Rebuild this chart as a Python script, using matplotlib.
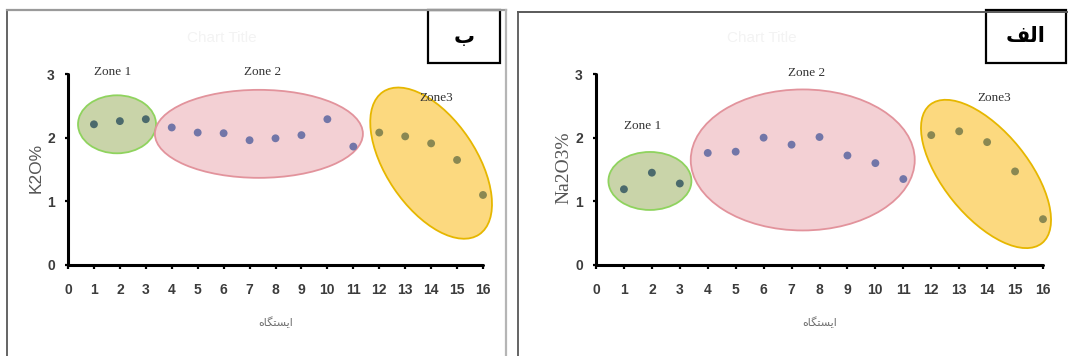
import matplotlib
matplotlib.use("Agg")
import matplotlib.pyplot as plt
from matplotlib.patches import Ellipse, Rectangle
from matplotlib.lines import Line2D
from matplotlib.transforms import ScaledTranslation

# station numbers and measured oxide percentages
stations = list(range(1, 17))
k2o = [2.21, 2.26, 2.29, 2.16, 2.08, 2.07, 1.96, 1.99, 2.04, 2.29, 1.86,
       2.08, 2.02, 1.91, 1.65, 1.10]
na2o = [1.19, 1.45, 1.28, 1.76, 1.78, 2.00, 1.89, 2.01, 1.72, 1.60, 1.35,
        2.04, 2.10, 1.93, 1.47, 0.72]
# zone of each station
zone_of = [1, 1, 1, 2, 2, 2, 2, 2, 2, 2, 2, 3, 3, 3, 3, 3]
zone_names = ["Zone 1", "Zone 2", "Zone3"]

x_ticks = list(range(0, 17))
y_ticks = [0, 1, 2, 3]

# shaped arabic/persian strings (presentation forms, visual order)
xlabel_fa = "\ufee9\ufe8e\ufb95\ufe98\ufeb4\ufbfe\ufe8d"   # ایستگاه
tag_b = "\u0628"                                        # ب
tag_alef = "\ufed2\ufedf\ufe8d"                         # الف

W, H = 1068, 356
fig = plt.figure(figsize=(W / 100, H / 100), dpi=100)
fig.patch.set_facecolor("white")

dot_colors = {1: "#4b6a6c", 2: "#7276a8", 3: "#8a8852"}
zone_fill = {1: ("#c9d4a9", "#8fd35e"), 2: ("#f3d0d4", "#e2939c"), 3: ("#fcd97f", "#e6b700")}


def px_rect(x0, y0, x1, y1):
    # pixel box (top-left origin) -> figure fraction rect
    return [x0 / W, 1 - y1 / H, (x1 - x0) / W, (y1 - y0) / H]


def zone_ellipse(ax, cx, cy, w, h, angle, zone):
    face, edge = zone_fill[zone]
    tr = ScaledTranslation(cx, cy, ax.transData)
    e = Ellipse((0, 0), w, h, angle=angle, transform=tr, facecolor=face,
                edgecolor=edge, linewidth=1.3, zorder=1, clip_on=False)
    ax.add_artist(e)


def draw_panel(rect, values, ylabel, ylabel_font, ylabel_size, ylabel_x,
               ellipses, zone_text):
    ax = fig.add_axes(rect)
    ax.set_xlim(0, 16)
    ax.set_ylim(0, 3)
    for side in ["top", "right"]:
        ax.spines[side].set_visible(False)
    for side in ["left", "bottom"]:
        ax.spines[side].set_linewidth(2.2)
        ax.spines[side].set_color("black")
        ax.spines[side].set_capstyle("round")
    ax.set_xticks(x_ticks)
    ax.set_yticks(y_ticks)
    ax.tick_params(axis="x", direction="out", length=3, width=1.6,
                   pad=10, labelsize=10, labelcolor="#3c3c3c")
    ax.tick_params(axis="y", direction="out", length=2.5, width=1.6,
                   pad=7, labelsize=10, labelcolor="#3c3c3c")
    for lab in ax.get_xticklabels() + ax.get_yticklabels():
        lab.set_fontfamily("Liberation Sans")
        lab.set_fontweight("bold")

    for (cx, cy, w, h, ang), z in zip(ellipses, [1, 2, 3]):
        zone_ellipse(ax, cx, cy, w, h, ang, z)

    cols = [dot_colors[z] for z in zone_of]
    ax.scatter(stations, values, s=32, c=cols, zorder=3, clip_on=False,
               linewidths=0)

    for name, (tx, ty) in zip(zone_names, zone_text):
        ax.text(tx, ty, name, family="Liberation Serif", fontsize=9.5,
                color="#333333", ha="center", va="center")

    ax.set_ylabel(ylabel, family=ylabel_font, fontsize=ylabel_size,
                  color="#555555")
    ax.yaxis.set_label_coords(ylabel_x, 0.51)
    ax.text(0.5, -0.30, xlabel_fa, transform=ax.transAxes, family="DejaVu Sans",
            fontsize=8, color="#707070", ha="center", va="center")
    ax.text(0.37, 1.19, "Chart Title", transform=ax.transAxes,
            family="Liberation Sans", fontsize=11, color="#f3f3f3",
            ha="center", va="center")
    return ax


# left panel: K2O
draw_panel(px_rect(68, 74, 483, 265), k2o, "K2O%", "Liberation Sans", 12.5,
           -0.058,
           [(1.89, 2.21, 78, 58, 0), (7.36, 2.06, 208, 88, 0),
            (14.0, 1.60, 172, 90, -56)],
           [(1.73, 3.03), (7.52, 3.03), (14.2, 2.62)])

# right panel: Na2O
draw_panel(px_rect(596, 74, 1043, 265), na2o, "Na2O3%", "Liberation Serif", 14,
           -0.053,
           [(1.93, 1.32, 83, 58, 0), (7.40, 1.65, 224, 141, 0),
            (13.96, 1.43, 178, 85, -51)],
           [(1.68, 2.18), (7.52, 3.02), (14.24, 2.62)])


def fig_line(x0, y0, x1, y1, color, lw):
    fig.add_artist(Line2D([x0 / W, x1 / W], [1 - y0 / H, 1 - y1 / H],
                          transform=fig.transFigure, color=color, lw=lw))


# outer frames of the two panels
fig_line(7, 10, 7, 356, "#4a4a4a", 1.2)
fig_line(7, 10, 506, 10, "#9a9a9a", 1.6)
fig_line(506, 10, 506, 356, "#b5b5b5", 1.6)
fig_line(518, 12, 518, 356, "#4a4a4a", 1.2)
fig_line(518, 12, 1068, 12, "#5a5a5a", 1.4)


def tag_box(x0, y0, x1, y1, txt):
    r = px_rect(x0, y0, x1, y1)
    fig.add_artist(Rectangle((r[0], r[1]), r[2], r[3], transform=fig.transFigure,
                             facecolor="white", edgecolor="black", linewidth=1.6))
    fig.text(r[0] + r[2] / 2, r[1] + r[3] / 2, txt, family="DejaVu Sans",
             fontsize=15, fontweight="bold", ha="center", va="center")


tag_box(428, 10, 500, 63, tag_b)
tag_box(986, 10, 1066, 63, tag_alef)

fig.savefig("out.png", dpi=100, facecolor="white")
